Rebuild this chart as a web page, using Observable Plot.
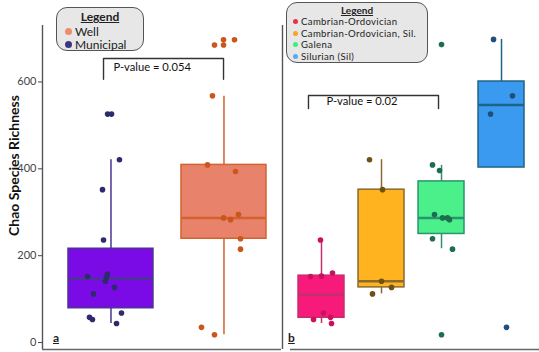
<!DOCTYPE html>
<html>
<head>
<meta charset="utf-8">
<script src="https://cdn.jsdelivr.net/npm/d3@7"></script>
<script src="https://cdn.jsdelivr.net/npm/@observablehq/plot@0.6"></script>
<style>
  html, body { margin: 0; padding: 0; background: #fff; }
  #wrap { position: relative; width: 539px; height: 352px; font-family: Lato, sans-serif; overflow: hidden; }
  #pa, #pb { position: absolute; top: 0; }
  #pa { left: 0; }
  #pb { left: 281px; }
  .legend { position: absolute; background: #e7e7e7; border: 1.5px solid #555; border-radius: 11px; box-sizing: border-box; color: #222; }
  .legend .ttl { font-weight: bold; text-align: center; text-decoration: underline; }
  .legend .it { display: flex; align-items: center; white-space: nowrap; }
  .legend .lab { display: inline-block; overflow: visible; }
  .legend .dot { display: inline-block; border-radius: 50%; margin-right: 3px; flex: none; }
  .plab { position: absolute; font-weight: bold; text-decoration: underline; font-size: 12px; color: #222; }
</style>
</head>
<body>
<div id="wrap">
  <div id="pa"></div>
  <div id="pb"></div>
</div>
<script>
// ---------- Panel a data ----------
const groupsA = ["Municipal", "Well"];
const q1A = [79, 239];
const medianA = [147, 287];
const q3A = [216, 409];
const lowA = [44, 18];
const highA = [421, 567];
const municipalValues = [526, 526, 421, 352, 236, 158, 152, 150, 141, 127, 112, 68, 58, 53, 44];
const municipalJitter = [-0.03, 0.005, 0.075, -0.075, -0.066, -0.031, -0.208, -0.04, -0.049, 0.031, -0.155, 0.093, -0.19, -0.164, 0.049];
const wellValues = [697, 697, 685, 685, 568, 409, 394, 295, 287, 283, 239, 215, 35, 18];
const wellJitter = [-0.004, 0.093, -0.084, -0.004, -0.102, -0.146, 0.102, 0.128, -0.004, 0.058, 0.146, 0.146, -0.199, -0.084];
const pvalueA = "P-value = 0.054";
const bracketA = {x1: -0.066, x2: 0.996, top: 654, foot: 606, textX: 0.022, textY: 633};

// ---------- Panel b data ----------
const groupsB = ["Cambrian-Ordovician", "Cambrian-Ordovician, Sil.", "Galena", "Silurian (Sil)"];
const q1B = [57, 127, 250, 403];
const medianB = [110, 141, 287, 547];
const q3B = [154, 352, 371, 601];
const lowB = [44, 112, 216, 403];
const highB = [236, 421, 408, 698];
const camOrdValues = [236, 160, 153, 152, 68, 58, 53, 44];
const camOrdJitter = [-0.017, 0.183, 0, -0.183, 0.033, 0.15, -0.133, 0.167];
const camOrdSilValues = [421, 352, 141, 127, 112];
const camOrdSilJitter = [-0.2, 0.017, 0, 0.167, -0.15];
const galenaValues = [686, 409, 396, 295, 287, 287, 283, 239, 215, 18];
const galenaJitter = [0, -0.15, -0.033, -0.117, 0.017, 0.1, 0.133, -0.15, 0.183, 0];
const silurianValues = [698, 568, 526, 35];
const silurianJitter = [-0.133, 0.183, -0.183, 0.083];
const pvalueB = "P-value = 0.02";
const bracketB = {x1: -0.217, x2: 1.95, top: 569, foot: 539, textX: 0.083, textY: 555};

const yTicks = [0, 200, 400, 600];
const yTitle = "Chao Species Richness";

// ---------- Styles ----------
const fillA = ["#7a0ae6", "#e8826a"];
const strokeA = ["#4a3592", "#d2622e"];
const dotA = ["#2d2b6b", "#c9561a"];
const legendDotA = ["#ef8c6c", "#3a3580"];
const fillB = ["#f71a7a", "#ffb41f", "#4cf08a", "#3a9af0"];
const strokeB = ["#c2306c", "#8a6a30", "#2a9470", "#1e6486"];
const dotB = ["#cc1060", "#6e5212", "#1d6e4e", "#1f4f7a"];
const legendDotB = ["#e8304a", "#f5a623", "#3ef07a", "#5aaaf0"];

const yDomain = [-16, 730];

function buildBoxes(groups, q1, med, q3, lo, hi, fill, stroke) {
  return groups.map((g, i) => ({g, i, q1: q1[i], median: med[i], q3: q3[i], low: lo[i], high: hi[i], fill: fill[i], stroke: stroke[i]}));
}
function buildPoints(lists, colors) {
  const out = [];
  lists.forEach(([vals, jit], i) => vals.forEach((v, k) => out.push({i, v, j: jit[k], c: colors[i]})));
  return out;
}
function bracketPts(b) {
  return [{x: b.x1, y: b.foot}, {x: b.x1, y: b.top}, {x: b.x2, y: b.top}, {x: b.x2, y: b.foot}];
}

function panel({width, marginLeft, xDomain, boxes, pts, halfWidth, bracket, ptext, showY, bottomStart}) {
  const marks = [
    Plot.ruleX(boxes, {x: "i", y1: "low", y2: "high", stroke: "stroke", strokeWidth: 1.5}),
    Plot.rect(boxes, {x1: d => d.i - halfWidth, x2: d => d.i + halfWidth, y1: "q1", y2: "q3", fill: "fill", stroke: "stroke", strokeWidth: 1.5}),
    Plot.ruleY(boxes, {x1: d => d.i - halfWidth, x2: d => d.i + halfWidth, y: "median", stroke: "stroke", strokeWidth: 2.5}),
    Plot.dot(pts, {x: d => d.i + d.j, y: "v", r: 2.8, fill: "c"}),
    Plot.line(bracketPts(bracket), {x: "x", y: "y", stroke: "#333", strokeWidth: 1.4}),
    Plot.text([ptext], {x: bracket.textX, y: bracket.textY, text: d => d, textAnchor: "start", fontSize: 11.2, fill: "#111"}),
    Plot.ruleX([xDomain[0]], {y1: yDomain[0], y2: yDomain[1], stroke: "#555", strokeWidth: 1.4}),
    Plot.ruleY([yDomain[0]], {x1: bottomStart, x2: xDomain[1], stroke: "#666", strokeWidth: 1.4})
  ];
  if (showY) {
    marks.push(Plot.axisY({ticks: yTicks, tickSize: 4, tickPadding: 2, label: null, fontSize: 11, color: "#444"}));
    marks.push(Plot.text([yTitle], {frameAnchor: "left", textAnchor: "middle", rotate: -90, dx: -28, dy: -22, text: d => d, fontWeight: "bold", fontSize: 14, fill: "#111"}));
  }
  return Plot.plot({
    width, height: 352,
    marginLeft, marginRight: 0, marginTop: 25, marginBottom: 3,
    x: {domain: xDomain, axis: null},
    y: {domain: yDomain, axis: null},
    color: {type: "identity"},
    style: {fontFamily: "Lato, sans-serif", background: "transparent", overflow: "visible"},
    marks
  });
}

const boxesA = buildBoxes(groupsA, q1A, medianA, q3A, lowA, highA, fillA, strokeA);
const ptsA = buildPoints([[municipalValues, municipalJitter], [wellValues, wellJitter]], dotA);
const boxesB = buildBoxes(groupsB, q1B, medianB, q3B, lowB, highB, fillB, strokeB);
const ptsB = buildPoints([[camOrdValues, camOrdJitter], [camOrdSilValues, camOrdSilJitter], [galenaValues, galenaJitter], [silurianValues, silurianJitter]], dotB);

const xDomA = [-0.606, 1.509];
const xDomB = [-0.65, 3.633];
document.getElementById("pa").append(panel({width: 281, marginLeft: 42, xDomain: xDomA, boxes: boxesA, pts: ptsA, halfWidth: 0.376, bracket: bracketA, ptext: pvalueA, showY: true, bottomStart: xDomA[0]}));
document.getElementById("pb").append(panel({width: 258, marginLeft: 1, xDomain: xDomB, boxes: boxesB, pts: ptsB, halfWidth: 0.383, bracket: bracketB, ptext: pvalueB, showY: false, bottomStart: -0.517}));

// ---------- Legends ----------
const wrap = document.getElementById("wrap");
function legend(o) {
  const el = document.createElement("div");
  el.className = "legend";
  Object.assign(el.style, {left: o.left + "px", top: o.top + "px", width: o.w + "px", height: o.h + "px", padding: "1px 0 0 " + o.padL + "px", fontSize: o.fontSize + "px", lineHeight: o.lineH + "px", letterSpacing: o.ls + "px"});
  const t = document.createElement("div");
  t.className = "ttl"; t.textContent = "Legend"; t.style.marginLeft = (-o.padL) + "px";
  Object.assign(t.style, {height: o.titleH + "px", lineHeight: o.titleH + "px", fontSize: o.titleSize + "px", letterSpacing: "0px"});
  el.append(t);
  o.labels.forEach((lab, i) => {
    const it = document.createElement("div"); it.className = "it";
    it.style.height = o.lineH + "px";
    const d = document.createElement("span"); d.className = "dot";
    Object.assign(d.style, {width: o.dot + "px", height: o.dot + "px", background: o.colors[i]});
    const s = document.createElement("span"); s.className = "lab"; s.textContent = lab;
    s.style.height = o.lineH + "px";
    it.append(d, s); el.append(it);
  });
  wrap.append(el);
}
legend({left: 56, top: 7, w: 88, h: 44, labels: ["Well", "Municipal"], colors: legendDotA, fontSize: 12, lineH: 13.5, titleH: 15.5, titleSize: 12, dot: 7, padL: 8, ls: 0});
legend({left: 286, top: 2, w: 142, h: 61, labels: groupsB, colors: legendDotB, fontSize: 9.6, lineH: 11.5, titleH: 12, titleSize: 10, dot: 5, padL: 6, ls: 0.35});

function plab(txt, left) {
  const s = document.createElement("div"); s.className = "plab"; s.textContent = txt;
  Object.assign(s.style, {left: left + "px", top: "330px"});
  wrap.append(s);
}
plab("a", 53);
plab("b", 288);
</script>
</body>
</html>
